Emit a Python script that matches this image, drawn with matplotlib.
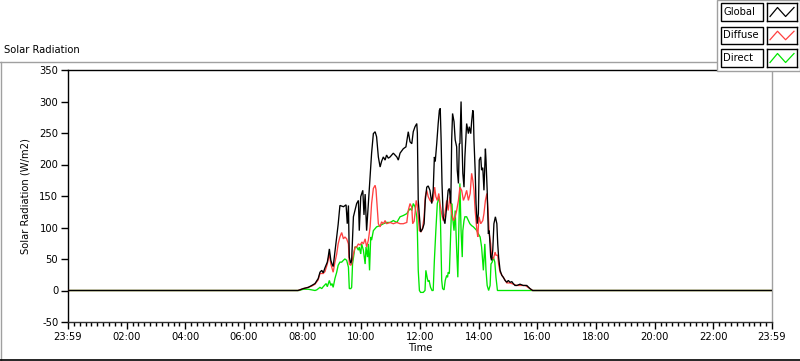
import matplotlib
matplotlib.use("Agg")
import matplotlib.pyplot as plt
from matplotlib.patches import Rectangle
from matplotlib.lines import Line2D

plt.rcParams['font.family'] = ['DejaVu Sans']
FS = 7.2

# ---------------- data (time in hours of day, values in W/m2) ----------------
global_t = [0.0, 7.84, 8.02, 8.19, 8.31, 8.42, 8.53, 8.59, 8.65, 8.70, 8.76, 8.84, 8.87, 8.91,
            8.96, 9.00, 9.04, 9.10, 9.16, 9.21, 9.27, 9.39, 9.48, 9.52, 9.56, 9.59, 9.64,
            9.67, 9.73, 9.84, 9.90, 9.93, 9.98, 10.05, 10.09, 10.13, 10.18, 10.24, 10.30,
            10.35, 10.41, 10.47, 10.52, 10.58, 10.64, 10.69, 10.75, 10.81, 10.86, 10.92,
            10.98, 11.09, 11.21, 11.26, 11.32, 11.43, 11.52, 11.60, 11.66, 11.72, 11.77,
            11.83, 11.89, 11.91, 11.94, 11.98, 12.02, 12.09, 12.14, 12.18, 12.23, 12.28,
            12.34, 12.40, 12.45, 12.49, 12.52, 12.57, 12.62, 12.66, 12.69, 12.72, 12.75,
            12.79, 12.85, 12.91, 12.96, 13.00, 13.05, 13.08, 13.11, 13.16, 13.20, 13.25,
            13.27, 13.31, 13.34, 13.36, 13.40, 13.42, 13.46, 13.50, 13.53, 13.59, 13.65,
            13.68, 13.73, 13.76, 13.80, 13.82, 13.84, 13.88, 13.91, 13.95, 13.99, 14.02,
            14.07, 14.10, 14.14, 14.18, 14.23, 14.25, 14.29, 14.33, 14.36, 14.41, 14.44,
            14.48, 14.52, 14.57, 14.62, 14.65, 14.68, 14.73, 14.79, 14.84, 14.90, 14.96,
            15.01, 15.07, 15.13, 15.18, 15.24, 15.30, 15.41, 15.52, 15.64, 15.75, 15.84, 24.0]
global_v = [0, 0, 3, 5, 8, 11, 19, 29, 32, 28, 36, 45, 53, 66,
            48, 42, 38, 61, 85, 105, 135, 133, 136, 106, 135, 53, 43,
            48, 117, 138, 143, 95, 149, 159, 120, 153, 95, 138, 180,
            218, 249, 252, 244, 212, 196, 205, 212, 207, 215, 210,
            212, 218, 212, 207, 218, 225, 228, 252, 236, 233, 252,
            260, 265, 250, 143, 117, 93, 98, 106, 143, 164, 166,
            159, 138, 159, 212, 205, 233, 265, 286, 289, 239, 170,
            117, 106, 133, 159, 162, 138, 239, 281, 268, 239, 228,
            191, 170, 233, 233, 300, 255, 186, 164, 212, 265, 249,
            260, 249, 268, 286, 280, 239, 191, 138, 106, 122, 207,
            212, 191, 195, 159, 225, 207, 159, 90, 95, 53, 48,
            64, 106, 117, 106, 74, 53, 32, 24, 21, 16, 13,
            16, 13, 14, 11, 8, 8, 10, 8, 8, 3, 0, 0]

diffuse_t = [0.0, 7.84, 8.02, 8.19, 8.31, 8.42, 8.53, 8.59, 8.65, 8.70, 8.76, 8.84, 8.91, 8.96,
             8.99, 9.04, 9.10, 9.16, 9.21, 9.27, 9.33, 9.39, 9.44, 9.50, 9.56, 9.59, 9.64,
             9.67, 9.73, 9.79, 9.84, 9.90, 9.96, 10.02, 10.07, 10.13, 10.18, 10.24, 10.30,
             10.35, 10.41, 10.47, 10.50, 10.55, 10.58, 10.64, 10.69, 10.75, 10.81, 10.86,
             10.98, 11.09, 11.21, 11.32, 11.43, 11.55, 11.60, 11.66, 11.72, 11.75, 11.80,
             11.83, 11.87, 11.91, 11.94, 11.98, 12.04, 12.09, 12.14, 12.18, 12.23, 12.28,
             12.34, 12.40, 12.45, 12.50, 12.54, 12.59, 12.64, 12.68, 12.74, 12.79, 12.85,
             12.91, 12.96, 13.02, 13.08, 13.14, 13.20, 13.25, 13.31, 13.36, 13.42, 13.48,
             13.53, 13.59, 13.65, 13.71, 13.76, 13.80, 13.84, 13.88, 13.94, 13.97, 14.01,
             14.07, 14.14, 14.18, 14.23, 14.28, 14.32, 14.36, 14.41, 14.44, 14.50, 14.56,
             14.59, 14.65, 14.68, 14.73, 14.84, 14.96, 15.07, 15.18, 15.30, 15.59, 15.75,
             15.84, 24.0]
diffuse_v = [0, 0, 3, 5, 7, 10, 17, 27, 27, 27, 30, 42, 58, 42,
             37, 29, 45, 58, 74, 85, 92, 82, 85, 82, 74, 42, 40,
             42, 58, 69, 69, 74, 72, 77, 74, 82, 69, 80, 101,
             138, 162, 167, 160, 127, 106, 101, 109, 106, 111, 106,
             108, 106, 108, 106, 106, 108, 127, 138, 132, 106, 110,
             122, 143, 135, 117, 95, 93, 100, 117, 149, 159, 149,
             143, 140, 143, 164, 149, 143, 154, 138, 122, 111, 122,
             143, 127, 149, 122, 111, 117, 127, 143, 164, 159, 143,
             149, 159, 143, 154, 186, 175, 159, 127, 95, 85, 117,
             106, 111, 122, 143, 154, 127, 90, 74, 53, 50, 61,
             56, 56, 42, 29, 21, 12, 12, 10, 8, 8, 3,
             0, 0]

direct_t = [0.0, 7.88, 8.02, 8.19, 8.31, 8.42, 8.48, 8.59, 8.65, 8.70, 8.80, 8.84, 8.91, 8.96,
            9.00, 9.04, 9.10, 9.16, 9.21, 9.27, 9.33, 9.39, 9.44, 9.50, 9.56, 9.59, 9.64,
            9.67, 9.70, 9.75, 9.78, 9.84, 9.90, 9.93, 9.98, 10.01, 10.07, 10.13, 10.16,
            10.21, 10.24, 10.28, 10.32, 10.35, 10.41, 10.52, 10.64, 10.75, 10.86, 10.98,
            11.09, 11.21, 11.32, 11.43, 11.55, 11.66, 11.72, 11.77, 11.83, 11.89, 11.91,
            11.94, 11.98, 12.02, 12.11, 12.17, 12.20, 12.25, 12.28, 12.31, 12.36, 12.41,
            12.45, 12.49, 12.54, 12.59, 12.62, 12.66, 12.70, 12.74, 12.77, 12.82, 12.86,
            12.91, 12.94, 12.96, 13.00, 13.05, 13.08, 13.11, 13.16, 13.20, 13.25, 13.29,
            13.32, 13.36, 13.40, 13.44, 13.46, 13.50, 13.53, 13.59, 13.65, 13.70, 13.76,
            13.82, 13.88, 13.94, 13.99, 14.05, 14.10, 14.16, 14.21, 14.25, 14.29, 14.34,
            14.39, 14.42, 14.46, 14.50, 14.55, 14.59, 14.64, 14.68, 14.73, 15.82, 24.0]
direct_v = [0, 0, 2, 2, 1, 0, 1, 5, 3, 6, 11, 6, 16, 8,
            11, 5, 19, 29, 40, 45, 45, 48, 50, 48, 37, 3, 3,
            5, 42, 58, 69, 69, 64, 69, 58, 74, 64, 42, 69,
            53, 74, 32, 85, 80, 95, 101, 103, 106, 108, 108,
            111, 108, 117, 119, 122, 130, 127, 138, 133, 117, 95,
            32, 0, -3, -3, 0, 32, 19, 14, 16, 5, 0,
            0, 48, 95, 138, 143, 149, 106, 16, 3, 1, 16,
            24, 21, 29, 27, 95, 138, 117, 95, 127, 64, 21,
            90, 170, 95, 53, 95, 111, 117, 117, 111, 106, 103,
            101, 98, 95, 90, 85, 69, 32, 74, 32, 8, 0,
            8, 42, 45, 53, 45, 21, 0, 0, 0, 0, 0]

series_names = ["Global", "Diffuse", "Direct"]
series_colors = ["#000000", "#ff4040", "#00e600"]

x_ticks = [0, 2, 4, 6, 8, 10, 12, 14, 16, 18, 20, 22, 24]
x_tick_labels = ["23:59", "02:00", "04:00", "06:00", "08:00", "10:00", "12:00",
                 "14:00", "16:00", "18:00", "20:00", "22:00", "23:59"]
y_ticks = [-50, 0, 50, 100, 150, 200, 250, 300, 350]

# ---------------- figure ----------------
W, H = 800, 361
fig = plt.figure(figsize=(W / 100, H / 100), dpi=100)
fig.patch.set_facecolor("white")


def fx(px):
    return px / W


def fy(py):
    return 1 - py / H


ax = fig.add_axes([fx(68), fy(322), fx(772) - fx(68), fy(70) - fy(322)])
series = [(global_t, global_v), (diffuse_t, diffuse_v), (direct_t, direct_v)]
zorders = [4, 3, 2]
for (t, v), c, z, name in zip(series, series_colors, zorders, series_names):
    ax.plot(t, v, color=c, lw=0.95, zorder=z, label=name, solid_joinstyle="miter")

ax.set_xlim(0, 24)
ax.set_ylim(-50, 350)
ax.set_xticks(x_ticks)
ax.set_xticklabels(x_tick_labels, fontsize=FS)
ax.set_xticks([i * 0.2 for i in range(121)], minor=True)
ax.set_yticks(y_ticks)
ax.set_yticklabels([str(v) for v in y_ticks], fontsize=FS)
ax.tick_params(axis="both", which="major", direction="out", length=5, width=1, pad=2,
               colors="black")
ax.tick_params(axis="x", which="minor", direction="out", length=3, width=1)
ax.tick_params(axis="y", which="minor", left=False)
for s in ["left", "top"]:
    ax.spines[s].set_color("black")
ax.spines["right"].set_color("#a0a0a0")
ax.spines["bottom"].set_color("#303030")
for s in ax.spines.values():
    s.set_linewidth(1)
ax.set_xlabel("Time", fontsize=FS, labelpad=1)
ax.set_ylabel("Solar Radiation (W/m2)", fontsize=FS, labelpad=6)

# panel frame
fig.add_artist(Line2D([0, fx(717)], [fy(62), fy(62)], color="#a0a0a0", lw=1))
fig.add_artist(Line2D([fx(0.5), fx(0.5)], [fy(62), 0], color="#a0a0a0", lw=1))
fig.add_artist(Line2D([0, 1], [fy(360), fy(360)], color="black", lw=1.2))
fig.text(fx(4), fy(50), "Solar Radiation", fontsize=FS, ha="left", va="center")

# legend panel
fig.add_artist(Rectangle((fx(717), fy(71)), fx(800) - fx(717), fy(0) - fy(71),
                         transform=fig.transFigure, facecolor="white",
                         edgecolor="#a0a0a0", lw=1, zorder=5))
rows = [(3, 21), (27, 44), (49, 67)]
for (y0, y1), name, c in zip(rows, series_names, series_colors):
    fig.add_artist(Rectangle((fx(721), fy(y1)), fx(763) - fx(721), fy(y0) - fy(y1),
                             transform=fig.transFigure, facecolor="white",
                             edgecolor="black", lw=1, zorder=6))
    fig.text(fx(723), fy((y0 + y1) / 2), name, fontsize=FS, ha="left", va="center",
             zorder=7)
    sw = fig.add_axes([fx(767), fy(y1), fx(797) - fx(767), fy(y0) - fy(y1)], zorder=8)
    sw.set_xlim(0, 1)
    sw.set_ylim(0, 1)
    sw.set_xticks([])
    sw.set_yticks([])
    for s in sw.spines.values():
        s.set_color("black")
        s.set_linewidth(1)
    sw.plot([0.1, 0.35, 0.62, 0.9], [0.25, 0.75, 0.25, 0.75], color=c, lw=0.9)

fig.savefig("out.png", dpi=100, facecolor="white")
